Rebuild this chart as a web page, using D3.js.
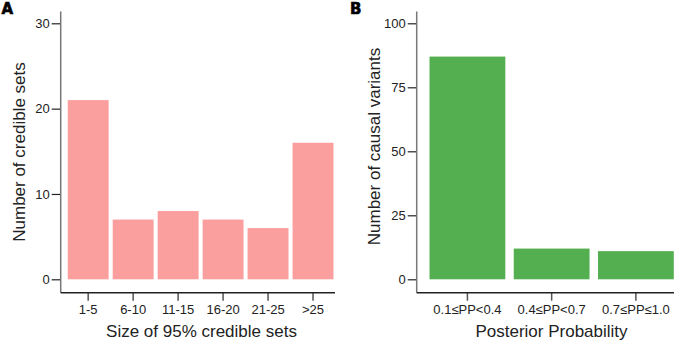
<!DOCTYPE html>
<html>
<head>
<meta charset="utf-8">
<script src="https://cdn.jsdelivr.net/npm/d3@7"></script>
<style>
  body { margin: 0; background: #fff; }
  svg { display: block; font-family: "Liberation Sans", Arial, sans-serif; }
  .tick text { fill: #222; }
</style>
</head>
<body>
<svg id="chart" width="687" height="340"></svg>
<script>
// Panel A data
const sizeCats = ["1-5", "6-10", "11-15", "16-20", "21-25", ">25"];
const sizeCounts = [21, 7, 8, 7, 6, 16];
const sizeTicks = [0, 10, 20, 30];

// Panel B data
const ppCats = ["0.1≤PP<0.4", "0.4≤PP<0.7", "0.7≤PP≤1.0"];
const ppCounts = [87, 12, 11];
const ppTicks = [0, 25, 50, 75, 100];

const svg = d3.select("#chart");

function drawPanel(opts) {
  const g = svg.append("g");

  const x = d3.scaleBand()
    .domain(opts.cats)
    .range([opts.x0, opts.x1])
    .paddingInner(opts.padIn)
    .paddingOuter(opts.padOut);

  const y = d3.scaleLinear()
    .domain([0, opts.max])
    .range([279.3, 23.3]);

  // bars
  g.selectAll("rect.bar")
    .data(opts.values)
    .join("rect")
    .attr("class", "bar")
    .attr("x", (d, i) => x(opts.cats[i]))
    .attr("width", x.bandwidth())
    .attr("y", (d) => y(d))
    .attr("height", (d) => y(0) - y(d))
    .style("fill", opts.color);

  // y axis
  const yAxis = g.append("g")
    .attr("transform", `translate(${opts.axisX},0)`)
    .call(d3.axisLeft(y).tickValues(opts.ticks).tickSize(9).tickPadding(2));
  yAxis.select(".domain").remove();
  yAxis.selectAll(".tick line").style("stroke", "#222").style("stroke-width", 1.2);
  yAxis.selectAll(".tick text").style("font-size", "13px");
  g.append("line")
    .attr("x1", opts.axisX).attr("x2", opts.axisX)
    .attr("y1", 11.5).attr("y2", 292.7)
    .style("stroke", "#777").style("stroke-width", 1.5);

  // x axis
  const xAxis = g.append("g")
    .attr("transform", "translate(0,292.7)")
    .call(d3.axisBottom(x).tickSize(8).tickPadding(4));
  xAxis.select(".domain").remove();
  xAxis.selectAll(".tick line").style("stroke", "#555").style("stroke-width", 1.5);
  xAxis.selectAll(".tick text").style("font-size", "13px");
  g.append("line")
    .attr("x1", opts.axisX).attr("x2", opts.axisEnd)
    .attr("y1", 292.7).attr("y2", 292.7)
    .style("stroke", "#222").style("stroke-width", 1.5);

  // axis titles
  g.append("text")
    .attr("x", opts.titleX)
    .attr("y", 337)
    .attr("text-anchor", "middle")
    .style("font-size", "17px")
    .style("fill", "#222")
    .text(opts.xTitle);

  g.append("text")
    .attr("transform", `translate(${opts.yTitleX},${opts.yTitleY}) rotate(-90)`)
    .attr("text-anchor", "middle")
    .style("font-size", "17px")
    .style("fill", "#222")
    .text(opts.yTitle);

  // panel letter
  g.append("text")
    .attr("x", opts.letterX)
    .attr("y", 14)
    .style("font-size", "15px")
    .style("font-weight", "900")
    .style("font-family", "'DejaVu Sans', sans-serif")
    .style("fill", "#000")
    .style("stroke", "#000")
    .style("stroke-width", 0.6)
    .text(opts.letter);
}

drawPanel({
  cats: sizeCats, values: sizeCounts, ticks: sizeTicks, max: 30,
  x0: 65.7, x1: 335.5, padIn: 0.09, padOut: 0.045,
  color: "#FA9E9E",
  axisX: 60.7, axisEnd: 335,
  xTitle: "Size of 95% credible sets", titleX: 201.5,
  yTitle: "Number of credible sets", yTitleX: 25, yTitleY: 152,
  letter: "A", letterX: 1.5
});

drawPanel({
  cats: ppCats, values: ppCounts, ticks: ppTicks, max: 100,
  x0: 425.3, x1: 678, padIn: 0.1, padOut: 0.05,
  color: "#53AF4F",
  axisX: 416.7, axisEnd: 674,
  xTitle: "Posterior Probability", titleX: 551.5,
  yTitle: "Number of causal variants", yTitleX: 380, yTitleY: 146.5,
  letter: "B", letterX: 350
});
</script>
</body>
</html>
